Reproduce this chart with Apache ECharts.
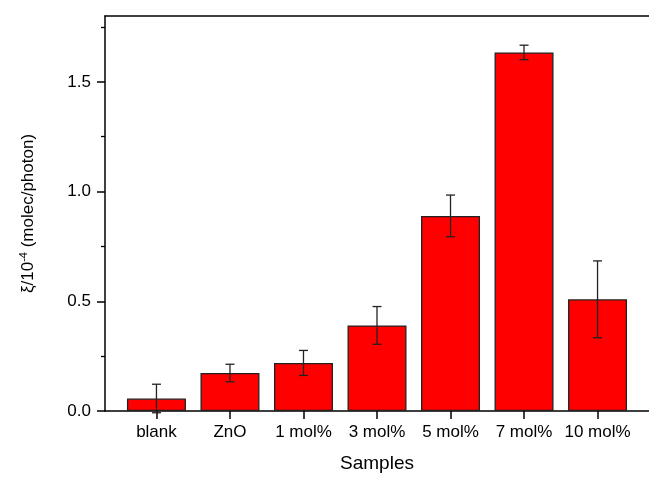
<!DOCTYPE html>
<html>
<head>
    <meta charset="utf-8" />
    <title>Samples</title>
    <script src="https://cdn.jsdelivr.net/npm/echarts@6/dist/echarts.min.js"></script>
</head>
<body style="margin:0;background:#fff;">
    <div id="chart" style="width:649px;height:478px;"></div>
    <script type="text/javascript">
        var categories = ['blank', 'ZnO', '1 mol%', '3 mol%', '5 mol%', '7 mol%', '10 mol%'];
        var values = [0.057, 0.173, 0.219, 0.390, 0.889, 1.634, 0.509];
        var errors = [0.065, 0.040, 0.057, 0.086, 0.095, 0.033, 0.175];
        var yTicks = [0, 0.5, 1.0, 1.5];
        var yMinorTicks = [0.25, 0.75, 1.25, 1.75];

        var chart = echarts.init(document.getElementById('chart'));
        var font = 'Liberation Sans, Arial, sans-serif';

        var barData = values.map(function (v, i) { return [i, v]; });
        var errData = values.map(function (v, i) { return [i, v - errors[i], v + errors[i]]; });

        var option = {
            animation: false,
            grid: { left: 105, top: 16, width: 545, height: 400 },
            xAxis: [{
                type: 'value',
                min: -0.7,
                max: 6.7,
                name: 'Samples',
                nameLocation: 'middle',
                nameGap: 43,
                nameTextStyle: { fontFamily: font, fontSize: 19, color: '#000' },
                splitLine: { show: false },
                axisLine: { onZero: false, lineStyle: { color: '#000', width: 1.5 } },
                axisTick: {
                    inside: false, length: 8,
                    customValues: [0, 1, 2, 3, 4, 5, 6],
                    lineStyle: { color: '#000', width: 1.5 }
                },
                axisLabel: {
                    customValues: [0, 1, 2, 3, 4, 5, 6],
                    margin: 13,
                    fontFamily: font, fontSize: 17, color: '#000',
                    formatter: function (v) { return categories[Math.round(v)]; }
                }
            }, {
                // top frame line only
                type: 'value',
                position: 'top',
                min: -0.7,
                max: 6.7,
                splitLine: { show: false },
                axisLine: { show: true, onZero: false, lineStyle: { color: '#000', width: 1.5 } },
                axisTick: { show: false },
                axisLabel: { show: false }
            }],
            yAxis: [{
                type: 'value',
                position: 'left',
                min: 0,
                max: 1.8,
                name: '{a|ξ/10}{s|-4}{a| (molec/photon)}',
                nameLocation: 'middle',
                nameGap: 66,
                nameTextStyle: {
                    color: '#000',
                    rich: {
                        a: { fontFamily: font, fontSize: 17, color: '#000' },
                        s: { fontFamily: font, fontSize: 11, color: '#000', padding: [0, 0, 10, 0] }
                    }
                },
                splitLine: { show: false },
                axisLine: { show: true, onZero: false, lineStyle: { color: '#000', width: 1.5 } },
                axisTick: {
                    length: 8,
                    customValues: yTicks,
                    lineStyle: { color: '#000', width: 1.5 }
                },
                axisLabel: {
                    customValues: yTicks,
                    margin: 14,
                    fontFamily: font, fontSize: 17, color: '#000',
                    formatter: function (v) { return v.toFixed(1); }
                }
            }, {
                // minor ticks
                type: 'value',
                position: 'left',
                offset: 0,
                min: 0,
                max: 1.8,
                splitLine: { show: false },
                axisLine: { show: false, onZero: false },
                axisTick: {
                    show: true,
                    length: 4,
                    customValues: yMinorTicks,
                    lineStyle: { color: '#000', width: 1.3 }
                },
                axisLabel: { show: false }
            }],
            series: [{
                type: 'bar',
                data: barData,
                barWidth: 59,
                itemStyle: { color: '#ff0000', borderColor: '#222', borderWidth: 1.3 }
            }, {
                type: 'custom',
                data: errData,
                z: 10,
                renderItem: function (params, api) {
                    var lo = api.coord([api.value(0), api.value(1)]);
                    var hi = api.coord([api.value(0), api.value(2)]);
                    var w = 4.5;
                    var st = { stroke: '#222', lineWidth: 1.3 };
                    return {
                        type: 'group',
                        children: [
                            { type: 'line', shape: { x1: hi[0], y1: hi[1], x2: lo[0], y2: lo[1] }, style: st },
                            { type: 'line', shape: { x1: hi[0] - w, y1: hi[1], x2: hi[0] + w, y2: hi[1] }, style: st },
                            { type: 'line', shape: { x1: lo[0] - w, y1: lo[1], x2: lo[0] + w, y2: lo[1] }, style: st }
                        ]
                    };
                }
            }]
        };
        chart.setOption(option);
    </script>
</body>
</html>
